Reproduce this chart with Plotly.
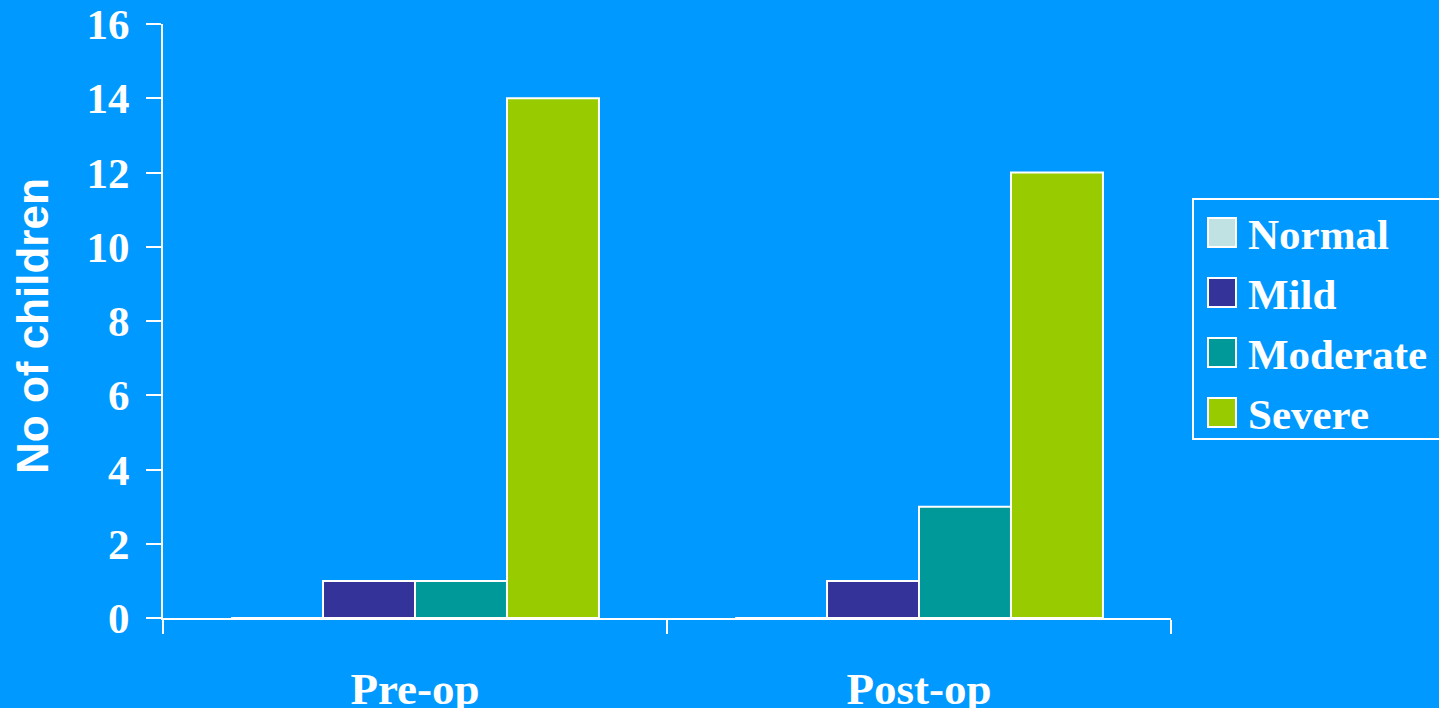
import plotly.graph_objects as go

# Data
groups = ["Pre-op", "Post-op"]
severity = ["Normal", "Mild", "Moderate", "Severe"]
counts = {
    "Normal": [0, 0],
    "Mild": [1, 1],
    "Moderate": [1, 3],
    "Severe": [14, 12],
}
colors = ["#C0E2E2", "#333399", "#009999", "#99CC00"]
y_ticks = [0, 2, 4, 6, 8, 10, 12, 14, 16]

BG = "#0099FF"
W, H = 1439, 708
L, R, T, B = 163, 268, 24, 90
plot_w = W - L - R
plot_h = H - T - B

serif = dict(family="Liberation Serif, Times New Roman, serif", color="white", weight="bold")


def px_x(px):
    return (px - L) / plot_w


def px_y(py):
    return 1 - (py - T) / plot_h


fig = go.Figure()
for name, col in zip(severity, colors):
    fig.add_trace(go.Bar(
        x=groups, y=counts[name], name=name,
        marker=dict(color=col, line=dict(color="white", width=2)),
        showlegend=False,
    ))

# Legend box drawn in paper space
shapes = [dict(type="rect", xref="paper", yref="paper",
               x0=px_x(1193), x1=px_x(1460), y0=px_y(439), y1=px_y(199),
               line=dict(color="white", width=2), fillcolor="rgba(0,0,0,0)")]
annotations = []
for i, (name, col) in enumerate(zip(severity, colors)):
    top = 218 + i * 60
    shapes.append(dict(type="rect", xref="paper", yref="paper",
                       x0=px_x(1208), x1=px_x(1236), y0=px_y(top + 29), y1=px_y(top),
                       line=dict(color="white", width=2), fillcolor=col))
    annotations.append(dict(text=name, xref="paper", yref="paper",
                            x=px_x(1246), y=px_y(top + 16), xanchor="left", yanchor="middle",
                            showarrow=False, font=dict(size=43, **serif)))

annotations.append(dict(text="No of children", xref="paper", yref="paper",
                        x=px_x(32), y=px_y(326), textangle=-90,
                        xanchor="center", yanchor="middle", showarrow=False,
                        font=dict(family="Liberation Sans, Arial, sans-serif", size=44,
                                  color="white", weight="bold")))

fig.update_layout(
    width=W, height=H,
    margin=dict(l=L, r=R, t=T, b=B, autoexpand=False),
    paper_bgcolor=BG, plot_bgcolor=BG,
    barmode="group", bargap=0.27, bargroupgap=0,
    shapes=shapes, annotations=annotations,
    showlegend=False,
)
fig.update_xaxes(
    showline=True, linecolor="white", linewidth=2,
    ticks="outside", tickson="boundaries", ticklen=14, tickwidth=2, tickcolor="white",
    tickfont=dict(size=45, **serif), ticklabelstandoff=30,
    showgrid=False, zeroline=False,
)
fig.update_yaxes(
    range=[0, 16], tickvals=y_ticks,
    showline=True, linecolor="white", linewidth=2,
    ticks="outside", ticklen=15, tickwidth=2, tickcolor="white",
    tickfont=dict(size=43, **serif), ticklabelstandoff=8,
    showgrid=False, zeroline=False,
)

fig.write_html("out.html")
